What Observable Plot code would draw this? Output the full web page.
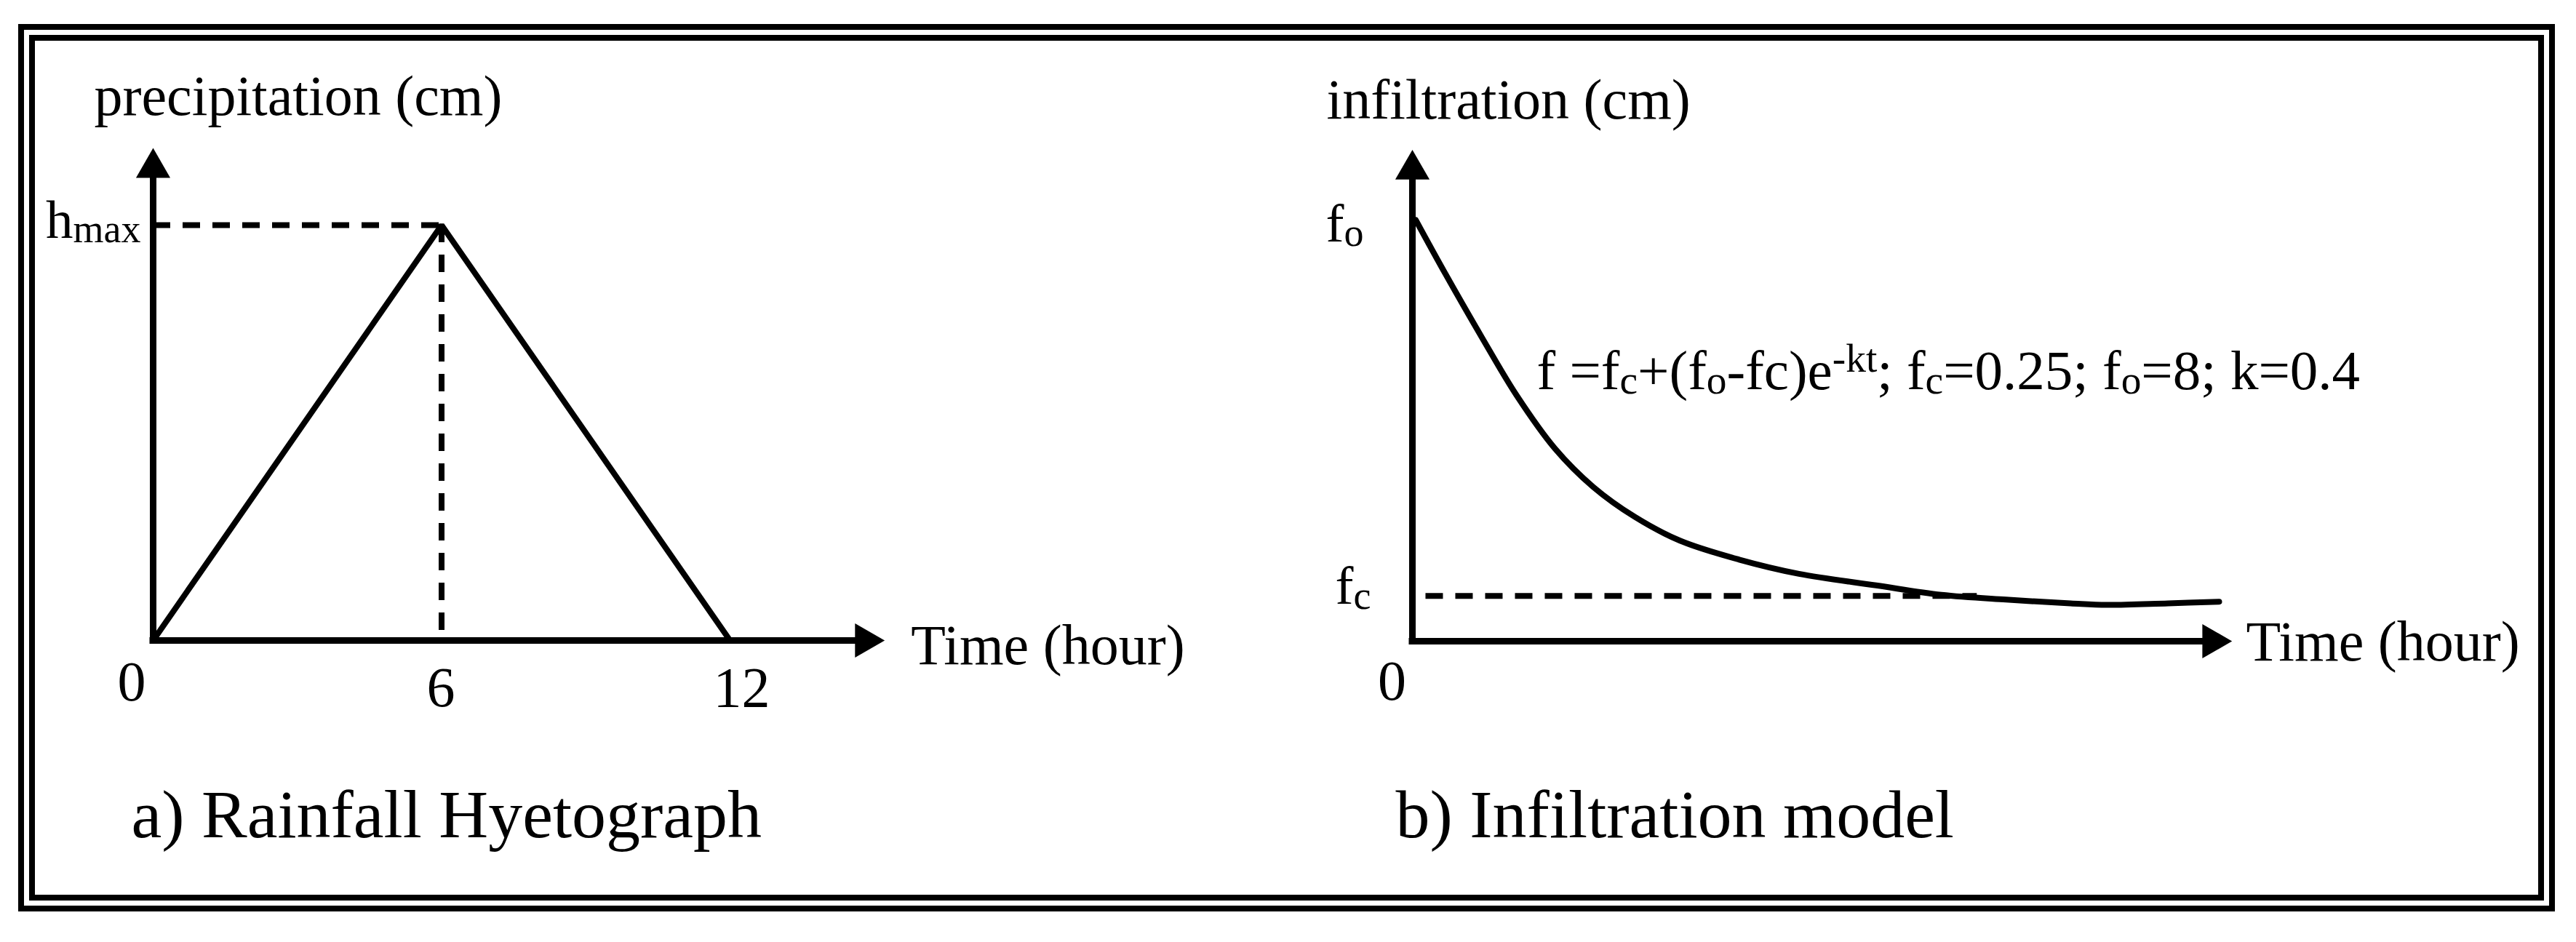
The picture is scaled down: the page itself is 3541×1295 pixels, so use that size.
<!DOCTYPE html>
<html>
<head>
<meta charset="utf-8">
<script src="https://cdn.jsdelivr.net/npm/d3@7"></script>
<script src="https://cdn.jsdelivr.net/npm/@observablehq/plot@0.6"></script>
<style>
  html, body { margin: 0; padding: 0; background: #fff; overflow: hidden; }
  #page { position: relative; width: 3541px; height: 1295px; background: #fff; }
  .frame { position: absolute; box-sizing: border-box; border: 8px solid #000; }
  #outer { left: 25px; top: 33px; width: 3487px; height: 1220px; }
  #inner { left: 40px; top: 48px; width: 3457px; height: 1190px; }
  #page svg { position: absolute; left: 0; top: 0; }
</style>
</head>
<body>
<div id="page">
  <div class="frame" id="outer"></div>
  <div class="frame" id="inner"></div>
</div>
<script>
// ---------- data: a) Rainfall Hyetograph ----------
const hyetoTime  = [0, 6, 12];          // hours
const hyetoDepth = [0, 1, 0];           // in units of h_max
const hyetoTicks = [0, 6, 12];
const hyetoPeak  = {time: 6, depth: 1};
const hyetoAxisEnd = {time: 14.6, depth: 1.114};
const hyetoLabels = {
  y: "precipitation (cm)", x: "Time (hour)", peak: "h_{max}", caption: "a) Rainfall Hyetograph"
};

// ---------- data: b) Infiltration model (read off the drawn curve) ----------
const infilTime = [0.05, 0.49, 1.02, 1.55, 2.12, 2.69, 3.31, 3.98, 4.86, 5.75, 6.90, 7.87, 8.83, 9.79, 10.33, 11.24, 12.0];
const infilRate = [8.0, 6.98, 5.80, 4.67, 3.66, 2.93, 2.36, 1.91, 1.55, 1.28, 1.06, 0.88, 0.79, 0.72, 0.69, 0.72, 0.75];
const infilFo = 8;
const infilFc = 0.86;                   // dashed level as drawn
const infilFcSpan = [0.2, 8.4];         // extent of dashed line (hours)
const infilTicks = [0];
const infilAxisEnd = {time: 11.75, rate: 8.77};
const infilLabels = {
  y: "infiltration (cm)", x: "Time (hour)", fo: "f_{o}", fc: "f_{c}",
  formula: "f =f_{c}+(f_{o}-fc)e^{-kt}; f_{c}=0.25; f_{o}=8; k=0.4",
  caption: "b) Infiltration model"
};

// ---------- drawing ----------
const W = 3541, H = 1295;
const SERIF = "'Liberation Serif', 'Times New Roman', Times, serif";
const K = "black";
const style = {fontFamily: SERIF, background: "transparent", overflow: "visible", color: K};
const dash = {stroke: K, strokeWidth: 8, strokeDasharray: "24,17"};
const axisLine = {stroke: K, strokeWidth: 9, strokeLinecap: "square"};
const head = {symbol: "triangle", r: 17.5, fill: K, stroke: "none"};
const txt = (fontSize, extra) => ({text: d => d, fill: K, lineAnchor: "bottom", textAnchor: "start", fontSize, ...extra});

const hyeto = hyetoTime.map((t, i) => ({t, p: hyetoDepth[i]}));
const infil = infilTime.map((t, i) => ({t, f: infilRate[i]}));

const left = Plot.plot({
  width: W, height: H, margin: 0, style,
  x: {domain: [0, 12], range: [210, 1003], axis: null},
  y: {domain: [0, 1], range: [880, 309], axis: null},
  marks: [
    Plot.ruleY([hyetoPeak.depth], {x1: () => 0, x2: () => hyetoPeak.time, ...dash}),
    Plot.ruleX([hyetoPeak.time], {y1: () => hyetoPeak.depth, y2: () => 0, ...dash}),
    Plot.line(hyeto, {x: "t", y: "p", stroke: K, strokeWidth: 8, strokeLinejoin: "miter"}),
    Plot.ruleX([0], {y1: () => 0, y2: () => hyetoAxisEnd.depth, ...axisLine}),
    Plot.ruleY([0], {x1: () => 0, x2: () => hyetoAxisEnd.time, ...axisLine}),
    Plot.dot([hyetoAxisEnd], {x: "time", y: () => 0, rotate: 90, dx: 13.6, ...head}),
    Plot.dot([hyetoAxisEnd], {x: () => 0, y: "depth", dy: -13.6, ...head}),
    Plot.text([hyetoLabels.y], {x: () => 0, y: () => hyetoAxisEnd.depth, ...txt(78, {dx: -81, dy: -86})}),
    Plot.text([hyetoLabels.peak], {x: () => 0, y: () => hyetoPeak.depth, ...txt(75, {textAnchor: "end", dx: -17, dy: 17})}),
    Plot.text(hyetoTicks, {filter: d => d === 0, x: d => d, y: () => 0, ...txt(78, {text: d => String(d), textAnchor: "end", dx: -10, dy: 82})}),
    Plot.text(hyetoTicks, {filter: d => d === 6, x: d => d, y: () => 0, ...txt(78, {text: d => String(d), textAnchor: "middle", dx: -1, dy: 90})}),
    Plot.text(hyetoTicks, {filter: d => d === 12, x: d => d, y: () => 0, ...txt(78, {text: d => String(d), textAnchor: "middle", dx: 16, dy: 90})}),
    Plot.text([hyetoLabels.x], {x: () => hyetoAxisEnd.time, y: () => 0, ...txt(78, {dx: 77, dy: 32})}),
    Plot.text([hyetoLabels.caption], {x: () => 0, y: () => 0, ...txt(94, {dx: -30, dy: 270})})
  ]
});

const right = Plot.plot({
  width: W, height: H, margin: 0, style,
  x: {domain: [0, 12], range: [1941, 3050], axis: null},
  y: {domain: [0, 8], range: [881, 302], axis: null},
  marks: [
    Plot.ruleY([infilFc], {x1: () => infilFcSpan[0], x2: () => infilFcSpan[1], ...dash}),
    Plot.line(infil, {x: "t", y: "f", curve: "catmull-rom", stroke: K, strokeWidth: 8}),
    Plot.ruleX([0], {y1: () => 0, y2: () => infilAxisEnd.rate, ...axisLine}),
    Plot.ruleY([0], {x1: () => 0, x2: () => infilAxisEnd.time, ...axisLine}),
    Plot.dot([infilAxisEnd], {x: "time", y: () => 0, rotate: 90, dx: 13.6, ...head}),
    Plot.dot([infilAxisEnd], {x: () => 0, y: "rate", dy: -13.6, ...head}),
    Plot.text([infilLabels.y], {x: () => 0, y: () => infilAxisEnd.rate, ...txt(78, {dx: -118, dy: -84})}),
    Plot.text([infilLabels.fo], {x: () => 0, y: () => infilFo, ...txt(75, {dx: -119, dy: 29})}),
    Plot.text([infilLabels.fc], {x: () => 0, y: () => infilFc, ...txt(75, {dx: -106, dy: 11})}),
    Plot.text(infilTicks, {x: d => d, y: () => 0, ...txt(78, {text: d => String(d), textAnchor: "middle", dx: -28, dy: 80})}),
    Plot.text([infilLabels.x], {x: () => infilAxisEnd.time, y: () => 0, ...txt(78, {dx: 60, dy: 26})}),
    Plot.text([infilLabels.formula], {x: () => 0, y: () => infilFo, ...txt(77, {dx: 171, dy: 232})}),
    Plot.text([infilLabels.caption], {x: () => 0, y: () => 0, ...txt(94, {dx: -23, dy: 269})})
  ]
});

const page = document.getElementById("page");
page.appendChild(left);
page.appendChild(right);

// turn _{...} / ^{...} into real subscript / superscript tspans
function richText(svg) {
  const NS = "http://www.w3.org/2000/svg";
  svg.querySelectorAll("text").forEach(t => {
    const s = t.textContent;
    if (!/[_^]\{/.test(s)) return;
    const fs = parseFloat(getComputedStyle(t).fontSize) || 75;
    const parts = s.split(/([_^]\{[^}]*\})/).filter(d => d.length);
    t.textContent = "";
    let shift = 0;
    for (const p of parts) {
      const ts = document.createElementNS(NS, "tspan");
      let target = 0;
      if (p.startsWith("_{")) {
        ts.textContent = p.slice(2, -1);
        ts.setAttribute("font-size", (fs * 0.72).toFixed(1));
        target = fs * 0.09;
      } else if (p.startsWith("^{")) {
        ts.textContent = p.slice(2, -1);
        ts.setAttribute("font-size", (fs * 0.72).toFixed(1));
        target = -fs * 0.3;
      } else {
        ts.textContent = p;
      }
      ts.setAttribute("dy", (target - shift).toFixed(1));
      shift = target;
      t.appendChild(ts);
    }
  });
}
richText(left);
richText(right);
</script>
</body>
</html>
